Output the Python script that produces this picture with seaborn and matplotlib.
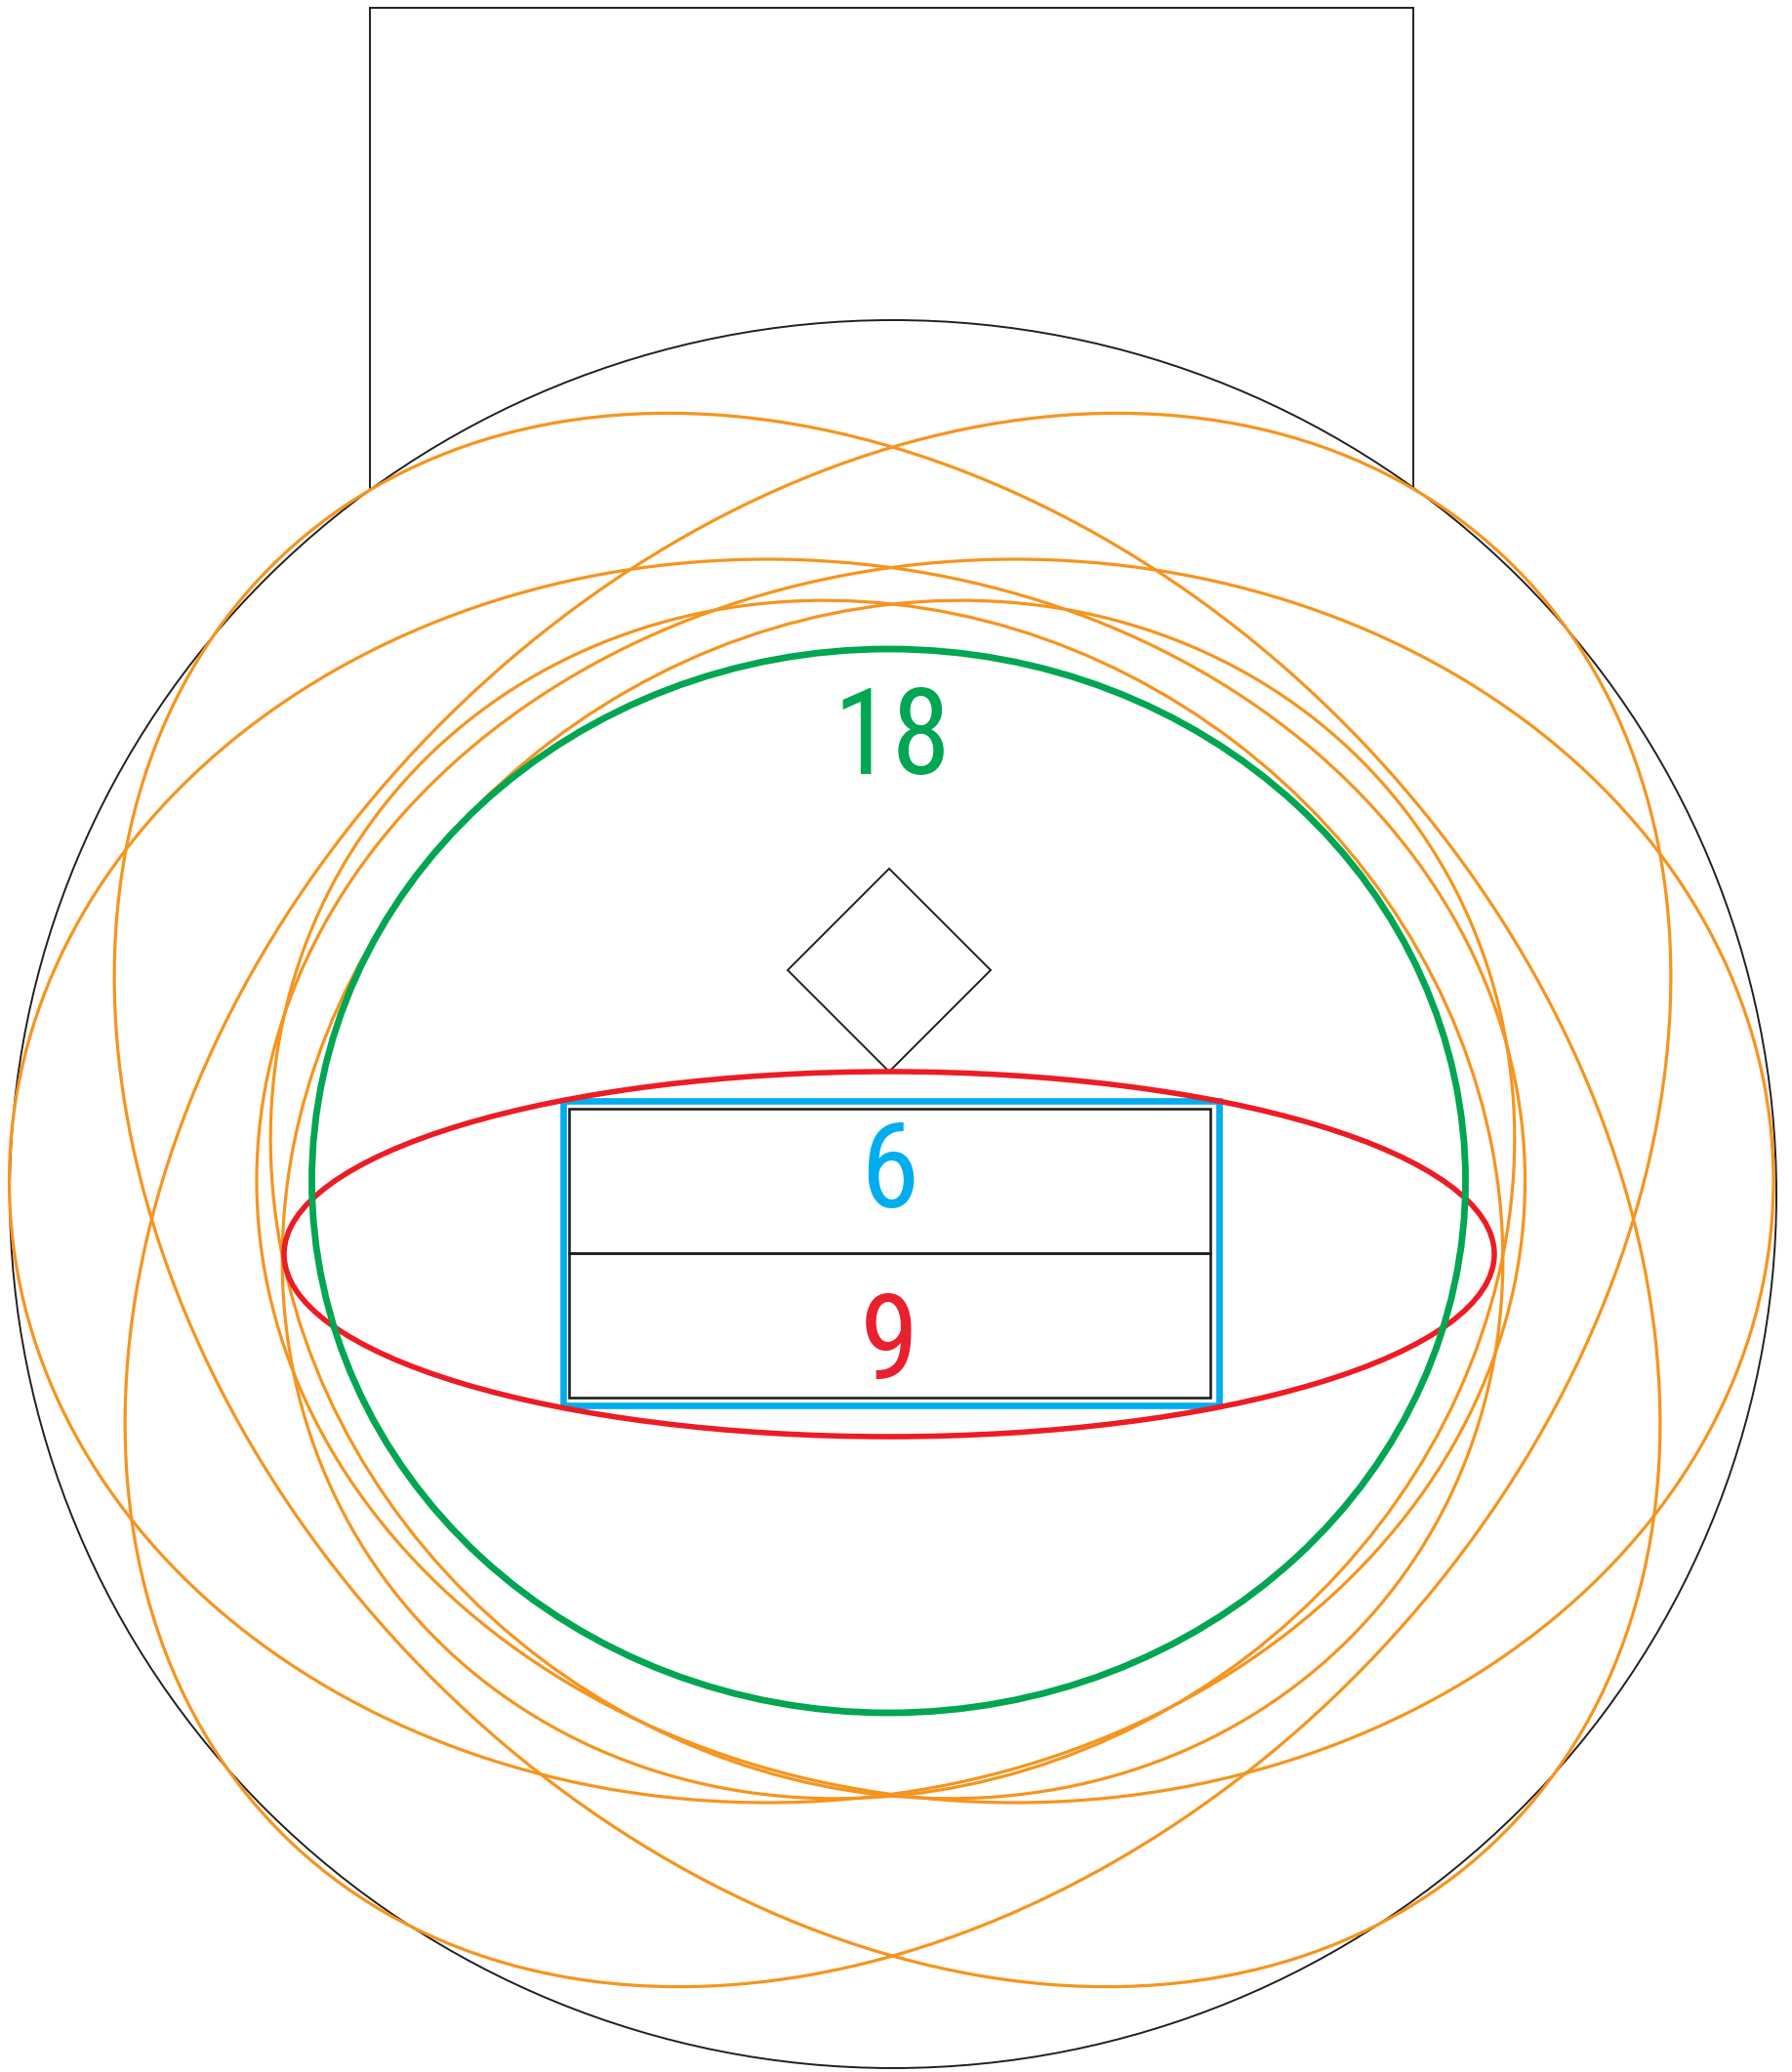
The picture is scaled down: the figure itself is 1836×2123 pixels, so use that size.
import matplotlib.pyplot as plt
import seaborn as sns
from matplotlib.patches import Ellipse, Rectangle, Polygon
from matplotlib import font_manager
from matplotlib.font_manager import FontProperties

# ─── DATA (pixel units of the 1836 x 2123 canvas, y grows downwards) ─────────
CANVAS_W, CANVAS_H = 1836, 2123

counts      = [18, 6, 9]
count_names = ["green", "blue", "red"]

# six orange ellipses (two tilted big ones, two flat ones, two near-round ones)
orange_cx    = [909.0, 920.0, 786.0, 1040.0, 908.5, 920.5]
orange_cy    = [1229.5, 1229.5, 1210.0, 1210.0, 1229.0, 1229.0]
orange_w     = [1811, 1811, 1553, 1554, 1309, 1309]
orange_h     = [1352, 1352, 1274, 1274, 1178, 1178]
orange_angle = [46.8, -46.8, 0.0, 0.0, 37.25, -37.25]

# outer frame: tab rectangle + circle
tab_box    = [379, 8, 1069, 1215]          # x, y, width, height
outer_circ = [915, 1223.5, 1810, 1791]     # cx, cy, width, height

# coloured sets
green_ell = [910.5, 1210, 1182, 1090]
red_ell   = [911, 1285, 1240, 374]
blue_box  = [577, 1128, 672, 312]
cells     = [[582.7, 1135.7, 656.8, 148.3], [582.7, 1284, 656.8, 148]]
diamond   = [911, 994, 104]                # cx, cy, half diagonal

label_xy  = [(913.5, 793), (911, 1237), (911, 1413)]   # baseline positions

COL = {"orange": "#F7941D", "green": "#00A651", "red": "#ED1C24",
       "blue": "#00AEEF", "black": "#231F20", "red_txt": "#E8202F"}
# ──────────────────────────────────────────────────────────────────────────────

sns.set_theme(style="white")
plt.rcParams['font.family'] = ['Liberation Sans', 'DejaVu Sans']

# the digits in the reference are set in a narrow grotesque; use one if present
prefer = ['Liberation Sans Narrow', 'Roboto Condensed', 'Open Sans Condensed',
          'Noto Sans Condensed', 'DejaVu Sans Condensed', 'Liberation Sans',
          'Roboto', 'DejaVu Sans']
ttf = font_manager.fontManager.ttflist
label_font = None
for name in prefer:
    hits = [f for f in ttf if f.name == name and f.style == 'normal'
            and f.weight in (400, 'normal', 'regular')]
    narrow = [f for f in hits if f.stretch in ('condensed', 'semi-condensed')]
    if narrow:
        label_font = FontProperties(fname=narrow[0].fname)
        break
    if hits and ('Narrow' in name or 'Condensed' in name):
        label_font = FontProperties(fname=hits[0].fname)
        break
if label_font is None:
    label_font = FontProperties(family=['Liberation Sans', 'DejaVu Sans'])

fig = plt.figure(figsize=(CANVAS_W / 100, CANVAS_H / 100), dpi=100)
ax = fig.add_axes([0, 0, 1, 1])
ax.set_xlim(0, CANVAS_W)
ax.set_ylim(CANVAS_H, 0)
ax.axis('off')

# tab behind the circle
ax.add_patch(Rectangle((tab_box[0], tab_box[1]), tab_box[2], tab_box[3],
                       facecolor='white', edgecolor=COL["black"], linewidth=1.4, zorder=1))
ax.add_patch(Ellipse((outer_circ[0], outer_circ[1]), outer_circ[2], outer_circ[3],
                     facecolor='white', edgecolor=COL["black"], linewidth=1.4, zorder=2))

for cx, cy, w, h, ang in zip(orange_cx, orange_cy, orange_w, orange_h, orange_angle):
    ax.add_patch(Ellipse((cx, cy), w, h, angle=ang, fill=False,
                         edgecolor=COL["orange"], linewidth=2.3, zorder=3))

# diamond
dx, dy, r = diamond
ax.add_patch(Polygon([(dx, dy - r), (dx + r, dy), (dx, dy + r), (dx - r, dy)],
                     closed=True, fill=False, edgecolor=COL["black"],
                     linewidth=1.4, zorder=4))

# blue set with the two cells
ax.add_patch(Rectangle((blue_box[0], blue_box[1]), blue_box[2], blue_box[3],
                       fill=False, edgecolor=COL["blue"], linewidth=4.8, zorder=5))
for x0, y0, w, h in cells:
    ax.add_patch(Rectangle((x0, y0), w, h, fill=False,
                           edgecolor=COL["black"], linewidth=1.9, zorder=6))

# red and green sets
ax.add_patch(Ellipse((red_ell[0], red_ell[1]), red_ell[2], red_ell[3], fill=False,
                     edgecolor=COL["red"], linewidth=4.0, zorder=7))
ax.add_patch(Ellipse((green_ell[0], green_ell[1]), green_ell[2], green_ell[3], fill=False,
                     edgecolor=COL["green"], linewidth=4.9, zorder=8))

txt_colors = [COL["green"], COL["blue"], COL["red_txt"]]
for n, (x, y), c in zip(counts, label_xy, txt_colors):
    ax.text(x, y, str(n), color=c, fontproperties=label_font, fontsize=88,
            ha='center', va='baseline', zorder=9)

fig.savefig('out.png', dpi=100)
plt.close(fig)
